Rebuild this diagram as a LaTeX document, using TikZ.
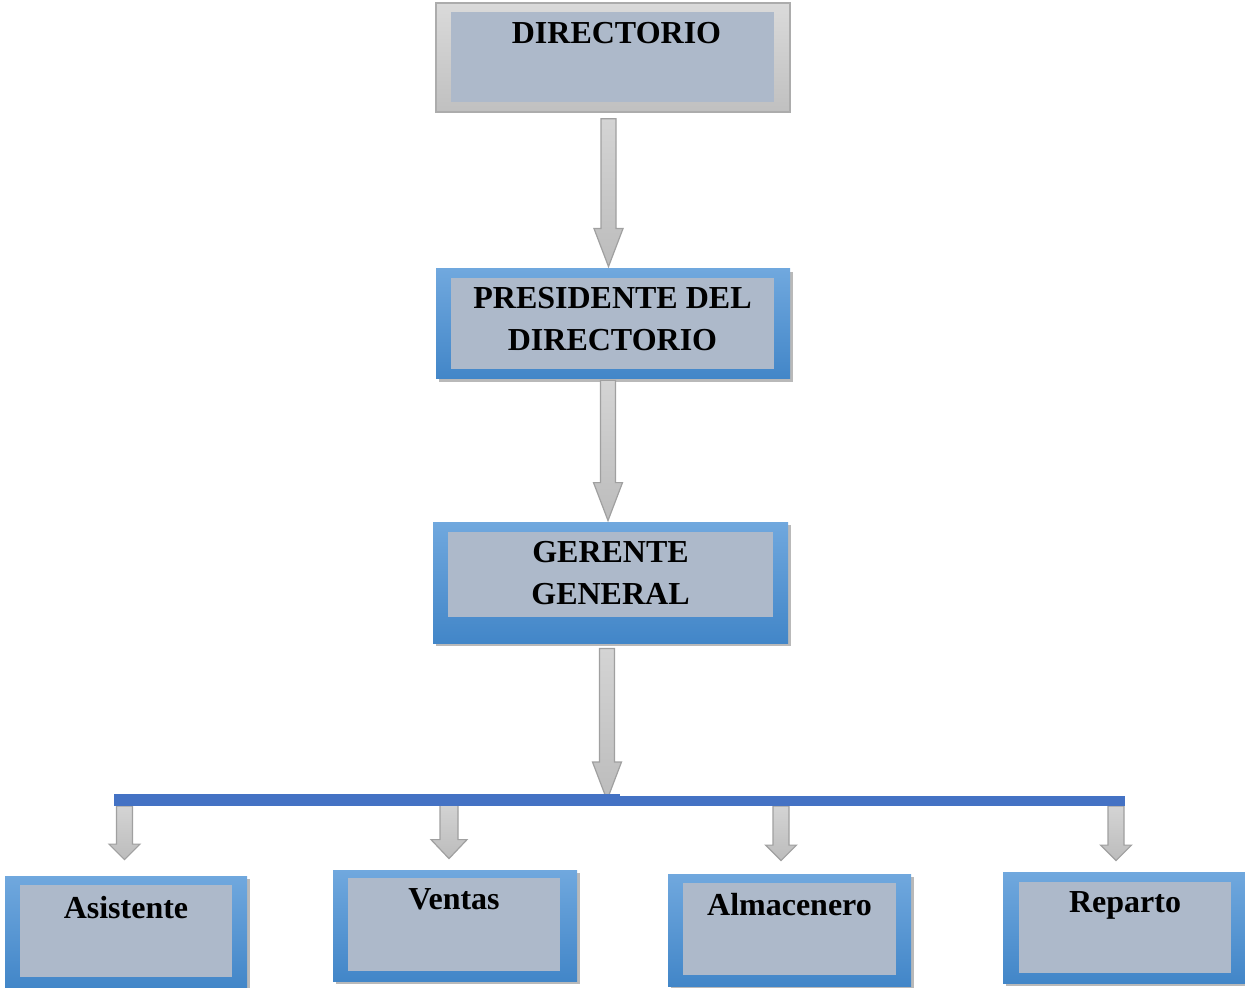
\documentclass[tikz,border=0pt]{standalone}
\usepackage{fontspec}
\setmainfont{Liberation Serif}
\usetikzlibrary{positioning,calc,shadows}

\definecolor{innerfill}{RGB}{173,185,202}
\definecolor{bluetop}{RGB}{112,168,222}
\definecolor{bluebot}{RGB}{66,134,200}
\definecolor{graytop}{RGB}{218,218,218}
\definecolor{graybot}{RGB}{192,192,192}
\definecolor{grayline}{RGB}{172,172,172}
\definecolor{arrtop}{RGB}{212,212,212}
\definecolor{arrbot}{RGB}{188,188,188}
\definecolor{arrline}{RGB}{160,160,160}
\definecolor{busblue}{RGB}{68,114,196}

\tikzset{
  bluebox/.style={rectangle, inner sep=0pt, top color=bluetop, bottom color=bluebot,
    drop shadow={shadow xshift=1.5pt, shadow yshift=-1.5pt, opacity=0.55}},
  graybox/.style={rectangle, inner sep=0pt, draw=grayline, line width=0.8pt,
    top color=graytop, bottom color=graybot},
  innerbox/.style={rectangle, inner sep=0pt, fill=innerfill},
  boxtext/.style={font=\bfseries\fontsize{16}{21}\selectfont, align=center, inner sep=0pt},
  blockarr/.style args={#1/#2/#3}{draw=arrline, line width=0.6pt,
    top color=arrtop, bottom color=arrbot,
    to path={let \p1=(\tikztostart), \p2=(\tikztotarget) in
      (\x1-#1,\y1) -- (\x1+#1,\y1) -- (\x1+#1,\y2+#3) -- (\x1+#2,\y2+#3)
      -- (\x1,\y2) -- (\x1-#2,\y2+#3) -- (\x1-#1,\y2+#3) -- cycle}},
  bigarr/.style={blockarr=3.75pt/7.25pt/19pt},
  smallarr/.style={blockarr=4pt/7.75pt/7.75pt},
  bus/.style={draw=busblue, line width=6pt}
}

\begin{document}
\begin{tikzpicture}[x=0.5pt, y=-0.5pt]
  \useasboundingbox (0,0) rectangle (1245,988);

  % top levels
  \node[graybox, minimum width=177pt, minimum height=54.5pt] (dir) at (613,57.5) {};
  \node[innerbox, minimum width=161.5pt, minimum height=45pt] (dir-in) at (612.5,57) {};
  \node[boxtext, below=5pt of dir-in.north, xshift=2pt] (dir-t) {DIRECTORIO};

  \node[bluebox, minimum width=177pt, minimum height=55pt] (pres) at (613,324) {};
  \node[innerbox, minimum width=161.5pt, minimum height=45.5pt] (pres-in) at (612.5,323.5) {};
  \node[boxtext, below=4.5pt of pres-in.north] (pres-t) {PRESIDENTE DEL\\DIRECTORIO};

  \node[bluebox, minimum width=177.5pt, minimum height=60.5pt] (ger) at (610.5,582.5) {};
  \node[innerbox, minimum width=162.5pt, minimum height=42.5pt] (ger-in) at (610.5,574.5) {};
  \node[boxtext, below=4.5pt of ger-in.north] (ger-t) {GERENTE\\GENERAL};

  % bottom level
  \node[bluebox, minimum width=121pt, minimum height=56pt] (asis) at (126,932) {};
  \node[innerbox, minimum width=106pt, minimum height=46pt] (asis-in) at (126,931) {};
  \node[boxtext, below=5.5pt of asis-in.north] (asis-t) {Asistente};

  \node[bluebox, minimum width=122pt, minimum height=55.5pt] (vent) at (455,925.5) {};
  \node[innerbox, minimum width=106pt, minimum height=46.5pt] (vent-in) at (454,924.5) {};
  \node[boxtext, below=5.5pt of vent-in.north] (vent-t) {Ventas};

  \node[bluebox, minimum width=121.5pt, minimum height=56pt] (alma) at (789.5,930) {};
  \node[innerbox, minimum width=106.5pt, minimum height=46pt] (alma-in) at (789.5,929) {};
  \node[boxtext, below=5pt of alma-in.north] (alma-t) {Almacenero};

  \node[bluebox, minimum width=121pt, minimum height=55.5pt] (repa) at (1124,927.5) {};
  \node[innerbox, minimum width=106pt, minimum height=45.5pt] (repa-in) at (1125,927.5) {};
  \node[boxtext, below=5pt of repa-in.north] (repa-t) {Reparto};

  % bus and taps
  \coordinate (busL) at (114,800);
  \coordinate (busM) at (620,800);
  \coordinate (busR) at (1125,801);
  \coordinate (tapA) at (124.5,806);
  \coordinate (tapV) at (449,802);
  \coordinate (tapM) at (781,806);
  \coordinate (tapR) at (1116,806);

  % arrows
  \draw[bigarr] ([xshift=-2.25pt,yshift=-3pt]dir.south) to ([yshift=1pt]pres.north);
  \draw[bigarr] ([xshift=-2.5pt,yshift=-0.5pt]pres.south) to ([yshift=0.5pt]ger.north);
  \draw[bigarr] ([xshift=-1.75pt,yshift=-2.5pt]ger.south) to (ger.south |- busL);

  \draw[smallarr] (tapA) to ($(tapA |- asis.north)+(0,-16)$);
  \draw[blockarr=4.5pt/9pt/9.5pt] (tapV) to ($(tapV |- vent.north)+(0,-11)$);
  \draw[smallarr] (tapM) to ($(tapM |- alma.north)+(0,-13)$);
  \draw[smallarr] (tapR) to ($(tapR |- repa.north)+(0,-11)$);

  \draw[bus] (busL) -- (busM);
  \draw[bus, line width=5pt] (busM |- busR) -- (busR);
\end{tikzpicture}
\end{document}
